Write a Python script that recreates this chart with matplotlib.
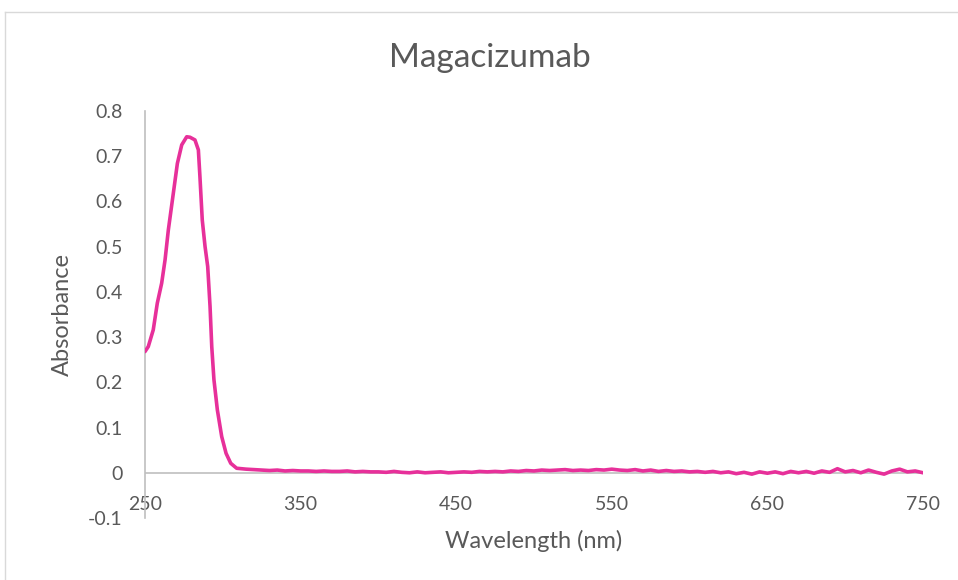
import matplotlib.pyplot as plt
from matplotlib.lines import Line2D
import numpy as np

# absorbance spectrum
wl_peak = [250, 252.1, 255.3, 257.9, 260.7, 262.9, 265, 268.2, 270.8, 273.6, 276.8, 278.9,
           282.1, 284.3, 285.3, 286.8, 288.6, 290.3, 291.8, 292.9, 294.3, 296.5, 299.3,
           302.1, 305.1, 308.9, 312]
abs_peak = [0.268, 0.279, 0.316, 0.375, 0.419, 0.471, 0.537, 0.618, 0.684, 0.725, 0.743, 0.742,
            0.736, 0.714, 0.655, 0.559, 0.5, 0.456, 0.368, 0.279, 0.206, 0.139, 0.08,
            0.043, 0.021, 0.01, 0.009]
wl_tail = list(range(315, 755, 5))
abs_tail = [0.008, 0.007, 0.006, 0.005, 0.006, 0.004, 0.005, 0.004, 0.004, 0.003,
            0.004, 0.003, 0.003, 0.004, 0.002, 0.003, 0.002, 0.002, 0.001, 0.003,
            0.001, 0.000, 0.002, 0.000, 0.001, 0.002, 0.000, 0.001, 0.002, 0.001,
            0.003, 0.002, 0.003, 0.002, 0.004, 0.003, 0.005, 0.004, 0.006, 0.005,
            0.006, 0.007, 0.005, 0.006, 0.005, 0.007, 0.006, 0.008, 0.006, 0.005,
            0.007, 0.004, 0.006, 0.003, 0.005, 0.003, 0.004, 0.002, 0.003, 0.001,
            0.003, 0.000, 0.002, -0.002, 0.001, -0.003, 0.002, -0.001, 0.002, -0.002,
            0.003, 0.000, 0.003, -0.001, 0.004, 0.001, 0.009, 0.002, 0.005, 0.000,
            0.006, 0.001, -0.003, 0.004, 0.008, 0.002, 0.004, 0.000]
x_ticks = [250, 350, 450, 550, 650, 750]
y_ticks = [-0.1, 0, 0.1, 0.2, 0.3, 0.4, 0.5, 0.6, 0.7, 0.8]

wl = wl_peak + wl_tail
ab = abs_peak + abs_tail

plt.rcParams['font.family'] = ['Lato', 'DejaVu Sans']
txt = '#595959'
grey = '#bfbfbf'

W, H = 958, 580
fig = plt.figure(figsize=(W / 100, H / 100), dpi=100)
ax = fig.add_axes([145 / W, 1 - 518 / H, (923 - 145) / W, (518 - 111) / H])

ax.axhline(0, color=grey, lw=1.2, zorder=1)
ax.plot(wl, ab, color='#E7309A', lw=2.6, solid_capstyle='round', solid_joinstyle='round', zorder=3)

ax.set_xlim(250, 750)
ax.set_ylim(-0.1, 0.8)
ax.set_xticks(x_ticks)
ax.set_xticklabels([str(v) for v in x_ticks])
ax.set_yticks(y_ticks)
ax.set_yticklabels(['-0.1', '0', '0.1', '0.2', '0.3', '0.4', '0.5', '0.6', '0.7', '0.8'])
ax.tick_params(axis='x', length=0, pad=-16, labelsize=14, labelcolor=txt)
ax.tick_params(axis='y', length=0, pad=16, labelsize=14, labelcolor=txt)
for lab in ax.get_xticklabels():
    lab.set_zorder(5)

for s in ['top', 'right', 'bottom']:
    ax.spines[s].set_visible(False)
ax.spines['left'].set_color(grey)
ax.spines['left'].set_linewidth(1.2)
ax.patch.set_alpha(0)

fig.text(490 / W, 1 - 58 / H, 'Magacizumab', ha='center', va='center', fontsize=24, color=txt)
fig.text(534 / W, 1 - 541 / H, 'Wavelength (nm)', ha='center', va='center', fontsize=17, color=txt)
fig.text(62 / W, 1 - 315 / H, 'Absorbance', ha='center', va='center', rotation=90, fontsize=17, color=txt)

# chart area border
fig.add_artist(Line2D([5 / W, 5 / W], [0, 1 - 12 / H], transform=fig.transFigure, color='#d9d9d9', lw=1))
fig.add_artist(Line2D([5 / W, 1], [1 - 12 / H, 1 - 12 / H], transform=fig.transFigure, color='#d9d9d9', lw=1))

plt.savefig('out.png', dpi=100)
